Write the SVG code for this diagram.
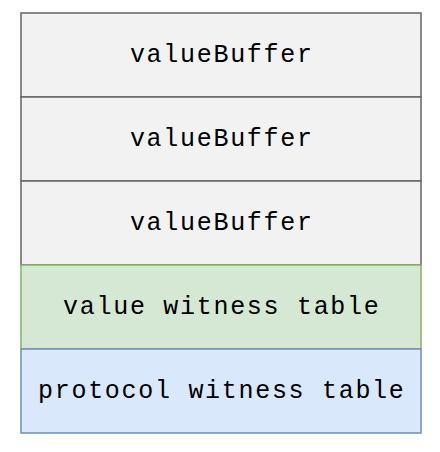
<svg xmlns="http://www.w3.org/2000/svg" width="440" height="452" viewBox="0 0 440 452">
<style>
.t{font-family:"Liberation Mono","Courier New",monospace;font-size:25px;letter-spacing:1.7px;fill:#000;text-anchor:middle}
.g{fill:#f2f2f2;stroke:#666666;stroke-width:1.5}
.v{fill:#d5e8d4;stroke:#82b366;stroke-width:1.5}
.p{fill:#dae8fc;stroke:#6c8ebf;stroke-width:1.5}
</style>
<rect width="440" height="452" fill="#ffffff"/>
<g id="buf1"><rect class="g" x="21" y="13" width="400" height="84"/><text class="t" x="221.8" y="62">valueBuffer</text></g>
<g id="buf2"><rect class="g" x="21" y="97" width="400" height="84"/><text class="t" x="221.8" y="146">valueBuffer</text></g>
<g id="buf3"><rect class="g" x="21" y="181" width="400" height="84"/><text class="t" x="221.8" y="230">valueBuffer</text></g>
<g id="vwt"><rect class="v" x="21" y="265" width="400" height="84"/><text class="t" x="221.8" y="314">value witness table</text></g>
<g id="pwt"><rect class="p" x="21" y="349" width="400" height="84"/><text class="t" x="221.8" y="398">protocol witness table</text></g>
<g id="connectors"/>
</svg>
